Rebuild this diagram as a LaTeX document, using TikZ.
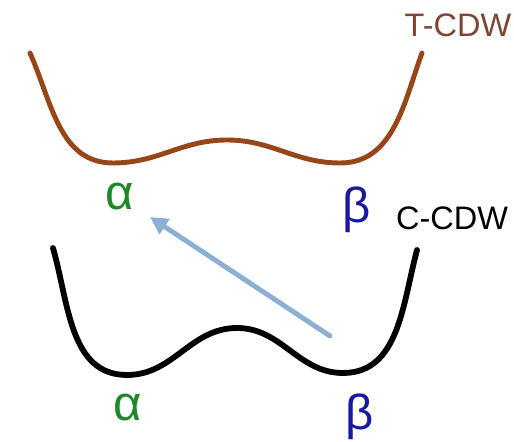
\documentclass[tikz,border=0pt]{standalone}
\usepackage{fontspec}
\setmainfont{Liberation Sans}
\usepackage{tikz}
\usetikzlibrary{arrows.meta}
\usepackage{xcolor}
\definecolor{curvebrown}{RGB}{150,70,25}
\definecolor{textbrown}{RGB}{125,70,50}
\definecolor{alphagreen}{RGB}{30,135,40}
\definecolor{betablue}{RGB}{25,25,160}
\definecolor{arrowblue}{RGB}{140,175,212}

\begin{document}
\begin{tikzpicture}[x=0.02cm,y=0.02cm,line cap=round,
  greek/.style={inner sep=0pt,font=\fontsize{28}{32}\selectfont},
  phase/.style={inner sep=0pt,font=\fontsize{18.5}{22}\selectfont}]
\useasboundingbox (0,0) rectangle (514,442);
% T-CDW well
\draw[curvebrown,line width=2.8pt] (30,389) to[out=-66,in=180] (113,279)
  to[out=0,in=180] (227,302) to[out=0,in=180] (340,279)
  to[out=0,in=-110] (422,389);
\node[phase,textbrown] (tcdw) at (458,417) {T-CDW};
\node[greek,alphagreen] (atop) at (120,245) {α};
\node[greek,betablue] (btop) at (357,232) {β};
% C-CDW well
\draw[black,line width=3.3pt] (53,194) to[out=-74,in=180] (127,67)
  to[out=0,in=180] (237,114) to[out=0,in=180] (343,69)
  to[out=0,in=-105] (417,192);
\node[phase,black] (ccdw) at (452,224) {C-CDW};
\node[greek,alphagreen] (abot) at (128,34) {α};
\node[greek,betablue] (bbot) at (360,25) {β};
% transition
\coordinate (tail) at (330,106);
\coordinate (tip) at (150,225);
\draw[arrowblue,line width=2.8pt,-{Triangle[length=10pt,width=10pt]}] (tail) -- (tip);
\end{tikzpicture}
\end{document}
